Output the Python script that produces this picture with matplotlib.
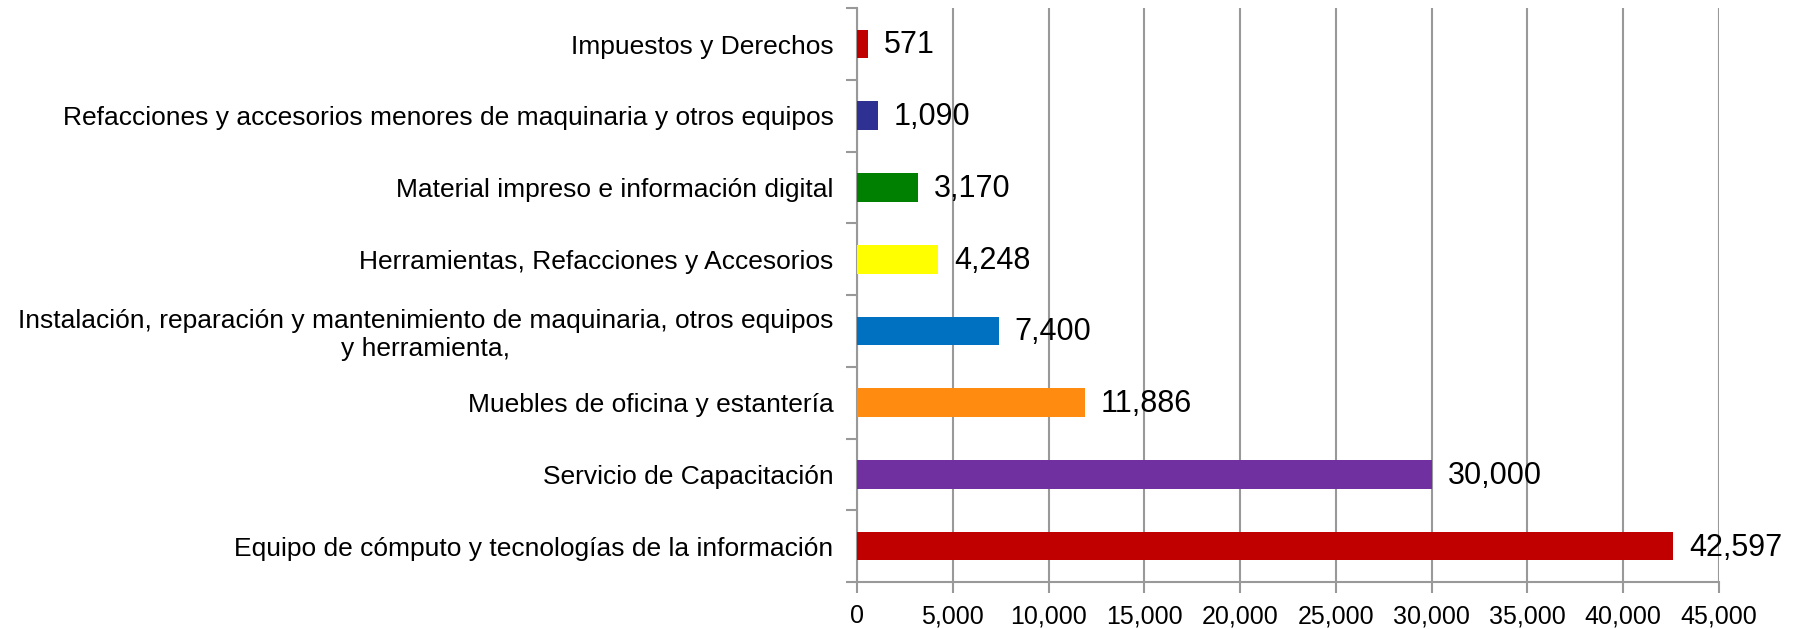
import matplotlib
matplotlib.use("Agg")
import matplotlib.pyplot as plt
from matplotlib.ticker import FuncFormatter

plt.rcParams['font.family'] = ['Liberation Sans', 'DejaVu Sans']

categories = [
    "Equipo de cómputo y tecnologías de la información",
    "Servicio de Capacitación",
    "Muebles de oficina y estantería",
    "Instalación, reparación y mantenimiento de maquinaria, otros equipos\ny herramienta,",
    "Herramientas, Refacciones y Accesorios",
    "Material impreso e información digital",
    "Refacciones y accesorios menores de maquinaria y otros equipos",
    "Impuestos y Derechos",
]
values = [42597, 30000, 11886, 7400, 4248, 3170, 1090, 571]
colors = ["#C00000", "#7030A0", "#FF8C10", "#0070C0", "#FFFF00", "#008000", "#2E3192", "#C00000"]
xticks = list(range(0, 45001, 5000))

fig = plt.figure(figsize=(17.94, 6.29), dpi=100)
ax = fig.add_axes([0.4777, 0.0747, 0.4805, 0.9123])

pos = list(range(len(categories)))
ax.barh(pos, values, height=0.4, color=colors, zorder=3)

# value labels just right of each bar
for y, v in zip(pos, values):
    ax.annotate("{:,}".format(v), (v, y), xytext=(11.5, -1), textcoords="offset points",
                va="center", ha="left", fontsize=22, zorder=4)

ax.set_xlim(0, 45000)
ax.set_ylim(-0.5, len(categories) - 0.5)
ax.set_xticks(xticks)
ax.xaxis.set_major_formatter(FuncFormatter(lambda x, p: "{:,}".format(int(x))))
ax.grid(axis="x", color="#999999", linewidth=1.5, zorder=0)

# category labels centered, ticks between categories
ax.set_yticks(pos)
ax.set_yticklabels(categories, multialignment="center")
ax.set_yticks([p - 0.5 for p in pos] + [len(pos) - 0.5], minor=True)
ax.tick_params(axis="y", which="major", length=0, pad=17, labelsize=19)
ax.tick_params(axis="y", which="minor", length=8, width=1.5, color="#999999", direction="out")
ax.tick_params(axis="x", length=8, width=1.5, color="#999999", labelsize=18, pad=8)

for s in ["top", "right"]:
    ax.spines[s].set_visible(False)
for s in ["left", "bottom"]:
    ax.spines[s].set_color("#999999")
    ax.spines[s].set_linewidth(1.5)

fig.savefig("out.png", dpi=100)
